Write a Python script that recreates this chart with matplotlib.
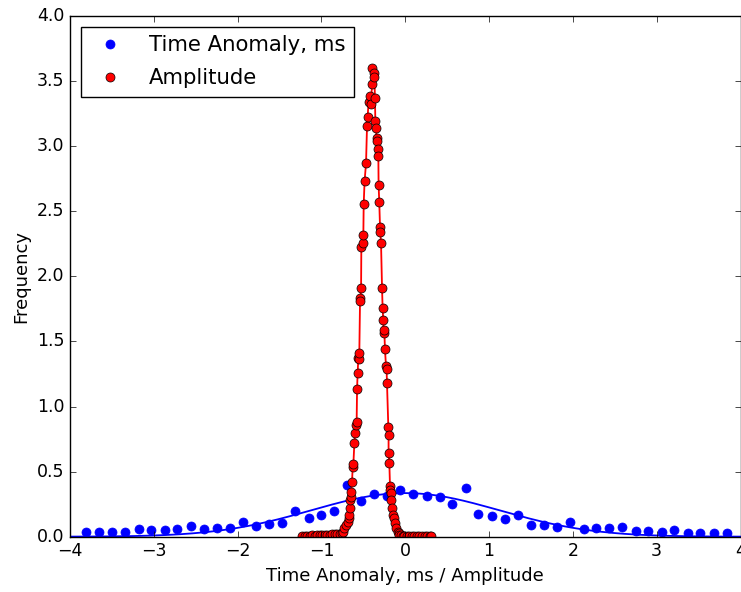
import numpy as np
import matplotlib
matplotlib.use("Agg")
import matplotlib.pyplot as plt

plt.style.use("classic")

# Time anomaly histogram (bin centres, ms) and frequencies
time_x = [-3.81, -3.65, -3.50, -3.34, -3.18, -3.03, -2.87, -2.72, -2.56, -2.40,
          -2.25, -2.09, -1.94, -1.78, -1.62, -1.47, -1.31, -1.15, -1.00, -0.845,
          -0.69, -0.53, -0.377, -0.218, -0.068, 0.09, 0.258, 0.41, 0.56, 0.72,
          0.873, 1.03, 1.19, 1.34, 1.50, 1.65, 1.81, 1.97, 2.13, 2.28,
          2.43, 2.59, 2.75, 2.90, 3.06, 3.21, 3.37, 3.52, 3.68, 3.84]
time_freq = [0.033, 0.033, 0.036, 0.036, 0.059, 0.048, 0.050, 0.056, 0.079, 0.061,
             0.066, 0.069, 0.115, 0.082, 0.100, 0.107, 0.194, 0.143, 0.164, 0.194,
             0.400, 0.276, 0.330, 0.315, 0.355, 0.330, 0.310, 0.305, 0.253, 0.374,
             0.171, 0.159, 0.133, 0.169, 0.092, 0.092, 0.074, 0.115, 0.061, 0.064,
             0.064, 0.074, 0.046, 0.046, 0.038, 0.051, 0.031, 0.025, 0.025, 0.031]

# Gaussian fit to the time anomaly distribution
fit_amp = 0.335
fit_mu = 0.0
fit_sigma = 1.12

# Amplitude distribution
amp_x = [-1.23, -1.20, -1.17, -1.14, -1.11, -1.08, -1.05, -1.02, -0.99, -0.96,
         -0.93, -0.90, -0.87, -0.84, -0.81, -0.78, -0.76,
         -0.746, -0.726, -0.706, -0.687, -0.675, -0.667, -0.658, -0.655, -0.646, -0.646,
         -0.635, -0.627, -0.619, -0.607, -0.599, -0.587, -0.580, -0.575, -0.568, -0.560,
         -0.551, -0.548, -0.539, -0.536, -0.527, -0.524, -0.508, -0.500, -0.496, -0.485,
         -0.468, -0.456, -0.449, -0.437, -0.420, -0.408, -0.397, -0.397, -0.377, -0.369,
         -0.361, -0.357, -0.349, -0.342, -0.337, -0.330, -0.321, -0.318, -0.310, -0.301,
         -0.298, -0.289, -0.277, -0.270, -0.262, -0.258, -0.250, -0.242, -0.230, -0.223,
         -0.218, -0.202, -0.199, -0.199, -0.190, -0.182, -0.179, -0.170, -0.167, -0.158,
         -0.143, -0.131, -0.119, -0.111, -0.092,
         -0.08, -0.07, -0.05, -0.03, -0.01, 0.02, 0.05, 0.08, 0.11, 0.14,
         0.17, 0.20, 0.23, 0.26, 0.29, 0.31]
amp_freq = [0.005, 0.006, 0.008, 0.007, 0.010, 0.009, 0.012, 0.011, 0.014, 0.013,
            0.016, 0.015, 0.018, 0.017, 0.020, 0.024, 0.030,
            0.038, 0.065, 0.090, 0.115, 0.141, 0.167, 0.218, 0.282, 0.307, 0.346,
            0.422, 0.538, 0.556, 0.722, 0.794, 0.858, 0.883, 1.132, 1.260, 1.370,
            1.365, 1.413, 1.836, 1.813, 1.908, 2.223, 2.258, 2.317, 2.553, 2.734,
            2.868, 3.157, 3.226, 3.341, 3.387, 3.321, 3.474, 3.597, 3.559, 3.528,
            3.367, 3.193, 3.137, 3.065, 3.039, 2.978, 2.924, 2.699, 2.571, 2.376,
            2.340, 2.253, 1.912, 1.754, 1.662, 1.562, 1.588, 1.439, 1.313, 1.286,
            1.183, 0.845, 0.781, 0.645, 0.568, 0.389, 0.359, 0.333, 0.282, 0.218,
            0.167, 0.141, 0.103, 0.065, 0.038,
            0.025, 0.015, 0.010, 0.008, 0.006, 0.005, 0.005, 0.004, 0.004, 0.003,
            0.003, 0.003, 0.002, 0.002, 0.002, 0.002]

fig = plt.figure(figsize=(7.41, 5.92), dpi=100, facecolor="white")
ax = fig.add_axes([70 / 741, 55.3 / 592, 670.5 / 741, 520.7 / 592])

ax.plot(time_x, time_freq, "o", color="b", markeredgecolor="b",
        markersize=6.5, label="Time Anomaly, ms")
xs = np.linspace(-4, 4, 400)
ax.plot(xs, fit_amp * np.exp(-(xs - fit_mu) ** 2 / (2 * fit_sigma ** 2)),
        "-", color="b", linewidth=1.3)

ax.plot(amp_x, amp_freq, "-", color="r", linewidth=1.3)
ax.plot(amp_x, amp_freq, "o", color="r", markeredgecolor="k",
        markeredgewidth=0.5, markersize=6.5, label="Amplitude")

ax.set_xlim(-4, 4)
ax.set_ylim(0, 4)
ax.set_xticks(np.arange(-4, 5, 1))
ax.set_yticks(np.arange(0, 4.01, 0.5))
ax.tick_params(labelsize=12.5)
ax.set_xlabel("Time Anomaly, ms / Amplitude", fontsize=13)
ax.set_ylabel("Frequency", fontsize=13)

ax.legend(loc="upper left", numpoints=1, fontsize=15.3, fancybox=False,
          labelspacing=0.62)

fig.savefig("out.png", dpi=100, facecolor="white")
